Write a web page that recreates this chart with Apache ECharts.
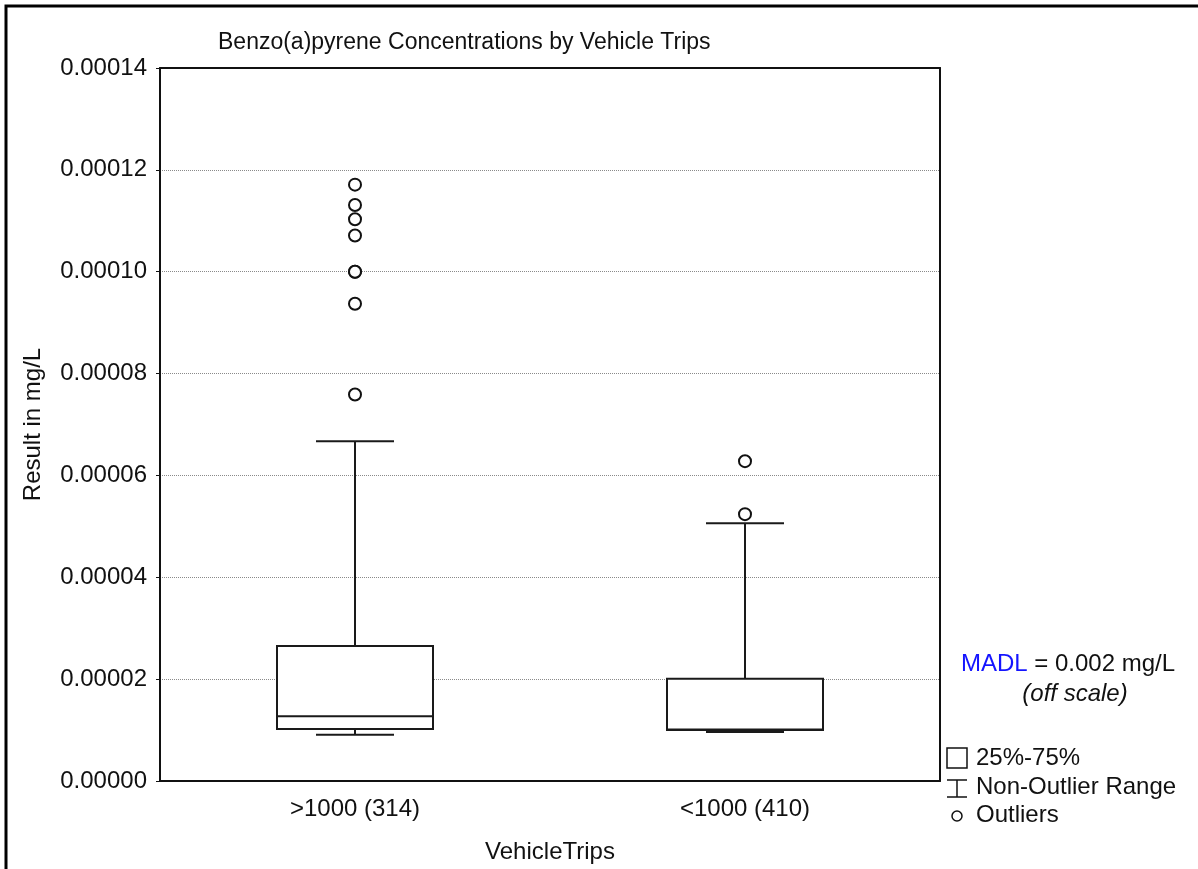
<!DOCTYPE html>
<html>
<head>
<meta charset="utf-8">
<script src="https://cdn.jsdelivr.net/npm/echarts@6/dist/echarts.min.js"></script>
<style>
  html, body { margin: 0; padding: 0; background: #fff; }
  #chart { width: 1198px; height: 869px; }
</style>
</head>
<body>
<div id="chart"></div>
<script>
const font = "'Liberation Sans', Arial, sans-serif";

const categories = ['>1000 (314)', '<1000 (410)'];
const boxMin = [0.0000091, 0.0000096];
const boxQ1 = [0.0000102, 0.0000100];
const boxMedian = [0.0000127, 0.0000101];
const boxQ3 = [0.0000265, 0.0000201];
const boxMax = [0.0000667, 0.0000506];
const outliersHigh = [0.0000759, 0.0000937, 0.0001, 0.0001, 0.0001071, 0.0001103, 0.0001131, 0.0001171];
const outliersLow = [0.0000524, 0.0000628];

const boxData = categories.map(function (c, i) {
  return [i, boxMin[i], boxQ1[i], boxMedian[i], boxQ3[i], boxMax[i]];
});
const outlierData = outliersHigh.map(function (v) { return [0, v]; })
  .concat(outliersLow.map(function (v) { return [1, v]; }));

const lineStyle = { stroke: '#1a1a1a', lineWidth: 2 };

// box + whiskers, caps at half the box width
function renderBox(params, api) {
  const x = api.value(0);
  const pMin = api.coord([x, api.value(1)]);
  const pQ1 = api.coord([x, api.value(2)]);
  const pMed = api.coord([x, api.value(3)]);
  const pQ3 = api.coord([x, api.value(4)]);
  const pMax = api.coord([x, api.value(5)]);
  const bw = api.size([1, 0])[0] * 0.4;
  const cw = bw / 2;
  const cx = pMed[0];
  function seg(x1, y1, x2, y2) {
    return { type: 'line', shape: { x1: x1, y1: y1, x2: x2, y2: y2 }, style: lineStyle };
  }
  return {
    type: 'group',
    children: [
      seg(cx, pQ3[1], cx, pMax[1]),
      seg(cx, pQ1[1], cx, pMin[1]),
      seg(cx - cw / 2, pMax[1], cx + cw / 2, pMax[1]),
      seg(cx - cw / 2, pMin[1], cx + cw / 2, pMin[1]),
      {
        type: 'rect',
        shape: { x: cx - bw / 2, y: pQ3[1], width: bw, height: pQ1[1] - pQ3[1] },
        style: { fill: '#fff', stroke: '#1a1a1a', lineWidth: 2 }
      },
      seg(cx - bw / 2, pMed[1], cx + bw / 2, pMed[1])
    ]
  };
}

const chart = echarts.init(document.getElementById('chart'));
chart.setOption({
  backgroundColor: '#fff',
  animation: false,
  title: {
    text: 'Benzo(a)pyrene Concentrations by Vehicle Trips',
    left: 218,
    top: 31,
    padding: 0,
    textStyle: { fontFamily: font, fontSize: 23, fontWeight: 'normal', color: '#111' }
  },
  grid: { left: 160, right: 258, top: 68, bottom: 87 },
  xAxis: [
    {
      type: 'category',
      data: categories,
      name: 'VehicleTrips',
      nameLocation: 'middle',
      nameGap: 59,
      nameTextStyle: { fontFamily: font, fontSize: 24, color: '#111' },
      axisLine: { onZero: false, lineStyle: { color: '#111', width: 2 } },
      axisTick: { inside: true, length: 5, alignWithLabel: true, lineStyle: { color: '#111', width: 2 } },
      axisLabel: { fontFamily: font, fontSize: 24, color: '#111', margin: 16 },
      splitLine: { show: false }
    },
    {
      type: 'category',
      data: categories,
      position: 'top',
      axisLine: { onZero: false, lineStyle: { color: '#111', width: 2 } },
      axisTick: { inside: true, length: 5, alignWithLabel: true, lineStyle: { color: '#111', width: 2 } },
      axisLabel: { show: false },
      splitLine: { show: false }
    }
  ],
  yAxis: [
    {
      type: 'value',
      min: 0,
      max: 0.00014,
      interval: 0.00002,
      name: 'Result in mg/L',
      nameLocation: 'middle',
      nameGap: 115,
      nameTextStyle: { fontFamily: font, fontSize: 24, color: '#111' },
      axisLine: { show: true, onZero: false, lineStyle: { color: '#111', width: 2 } },
      axisTick: { show: true, length: 4, lineStyle: { color: '#111' } },
      axisLabel: {
        fontFamily: font, fontSize: 24, color: '#111', margin: 13,
        formatter: function (v) { return v.toFixed(5); }
      },
      splitLine: { show: true, lineStyle: { color: '#8a8a8a', type: 'dotted', width: 1 } }
    },
    {
      type: 'value',
      min: 0,
      max: 0.00014,
      interval: 0.00002,
      position: 'right',
      axisLine: { show: true, onZero: false, lineStyle: { color: '#111', width: 2 } },
      axisTick: { show: false },
      axisLabel: { show: false },
      splitLine: { show: false }
    }
  ],
  series: [
    {
      type: 'custom',
      renderItem: renderBox,
      data: boxData,
      encode: { x: 0, y: [1, 2, 3, 4, 5] },
      z: 3
    },
    {
      type: 'scatter',
      data: outlierData,
      symbol: 'circle',
      symbolSize: 12,
      itemStyle: { color: '#fff', borderColor: '#111', borderWidth: 2, opacity: 1 },
      z: 4
    }
  ],
  graphic: [
    { type: 'polyline', shape: { points: [[6, 869], [6, 6], [1198, 6]] }, style: { stroke: '#000', lineWidth: 3, fill: null } },
    {
      type: 'text', x: 1068, y: 664,
      style: {
        text: '{b|MADL} = 0.002 mg/L', font: '24px ' + font, fill: '#111',
        align: 'center', verticalAlign: 'middle',
        rich: { b: { fill: '#1414ff', fontSize: 24, fontFamily: font } }
      }
    },
    {
      type: 'text', x: 1075, y: 694,
      style: { text: '(off scale)', font: 'italic 24px ' + font, fill: '#111', align: 'center', verticalAlign: 'middle' }
    },
    { type: 'rect', shape: { x: 947, y: 748, width: 20, height: 20 }, style: { fill: '#fff', stroke: '#111', lineWidth: 1.5 } },
    { type: 'line', shape: { x1: 957, y1: 780, x2: 957, y2: 797 }, style: { stroke: '#111', lineWidth: 1.5 } },
    { type: 'line', shape: { x1: 947, y1: 780, x2: 967, y2: 780 }, style: { stroke: '#111', lineWidth: 1.5 } },
    { type: 'line', shape: { x1: 947, y1: 797, x2: 967, y2: 797 }, style: { stroke: '#111', lineWidth: 1.5 } },
    { type: 'circle', shape: { cx: 957, cy: 816, r: 5 }, style: { fill: '#fff', stroke: '#111', lineWidth: 1.5 } },
    { type: 'text', x: 976, y: 758, style: { text: '25%-75%', font: '24px ' + font, fill: '#111', verticalAlign: 'middle' } },
    { type: 'text', x: 976, y: 787, style: { text: 'Non-Outlier Range', font: '24px ' + font, fill: '#111', verticalAlign: 'middle' } },
    { type: 'text', x: 976, y: 815, style: { text: 'Outliers', font: '24px ' + font, fill: '#111', verticalAlign: 'middle' } }
  ]
});
</script>
</body>
</html>
